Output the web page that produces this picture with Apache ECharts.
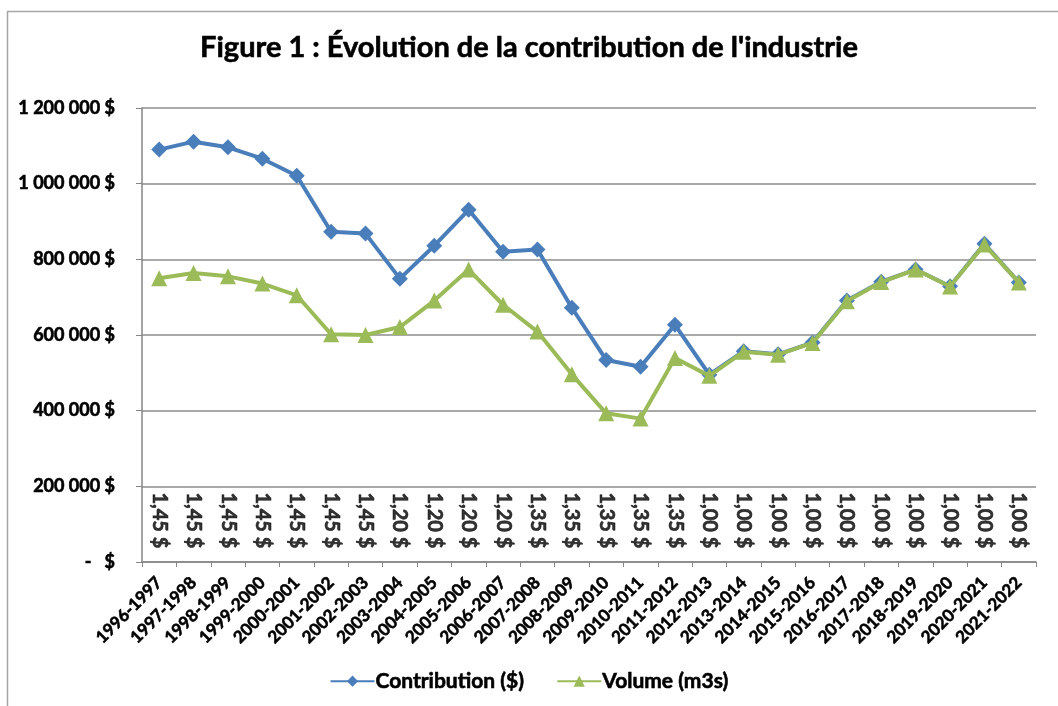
<!DOCTYPE html>
<html>
<head>
<meta charset="utf-8">
<script src="https://cdn.jsdelivr.net/npm/echarts@6/dist/echarts.min.js"></script>
<style>
  html, body { margin: 0; padding: 0; background: #fff; }
  #chart { width: 1058px; height: 706px; }
</style>
</head>
<body>
<div id="chart"></div>
<script>
const years = [
  '1996-1997', '1997-1998', '1998-1999', '1999-2000', '2000-2001', '2001-2002',
  '2002-2003', '2003-2004', '2004-2005', '2005-2006', '2006-2007', '2007-2008',
  '2008-2009', '2009-2010', '2010-2011', '2011-2012', '2012-2013', '2013-2014',
  '2014-2015', '2015-2016', '2016-2017', '2017-2018', '2018-2019', '2019-2020',
  '2020-2021', '2021-2022'
]
const contribution = [
  1090000, 1111000, 1096000, 1066000, 1021000, 873000, 868000, 749000, 836000,
  931000, 820000, 826000, 672000, 534000, 516000, 627000, 495000, 557000,
  549000, 580000, 691000, 741000, 773000, 729000, 841000, 739000
]
const volume = [
  750000, 764000, 755000, 736000, 705000, 602000, 600000, 621000, 691000,
  773000, 680000, 609000, 496000, 393000, 379000, 539000, 492000, 556000,
  548000, 579000, 689000, 740000, 773000, 728000, 839000, 739000
]
const rateLabels = [
  '1,45 $', '1,45 $', '1,45 $', '1,45 $', '1,45 $', '1,45 $', '1,45 $',
  '1,20 $', '1,20 $', '1,20 $', '1,20 $',
  '1,35 $', '1,35 $', '1,35 $', '1,35 $', '1,35 $',
  '1,00 $', '1,00 $', '1,00 $', '1,00 $', '1,00 $', '1,00 $', '1,00 $',
  '1,00 $', '1,00 $', '1,00 $'
]

const FONT = 'Lato'
const RATE_Y = 110000

// heavier text, closer to the bold Calibri of the original
const heavy = { fontFamily: FONT, fontWeight: 'bold', color: '#000', textBorderColor: '#000', textBorderWidth: 0.6 }

const fmtMoney = (v) => {
  if (v === 0) return '-   $'
  return String(v).replace(/\B(?=(\d{3})+(?!\d))/g, ' ') + ' $'
}

const chart = echarts.init(document.getElementById('chart'), null, { renderer: 'canvas' })

chart.setOption({
  animation: false,
  textStyle: { fontFamily: FONT },
  graphic: [{
    type: 'rect',
    shape: { x: 7.5, y: 11.5, width: 1100, height: 800 },
    style: { fill: 'none', stroke: '#a6a6a6', lineWidth: 1.5 },
    silent: true
  }],
  title: {
    text: "Figure 1 : Évolution de la contribution de l'industrie",
    left: 'center',
    top: 28,
    textStyle: { ...heavy, fontSize: 29 }
  },
  legend: {
    data: ['Contribution ($)', 'Volume (m3s)'],
    bottom: 9,
    left: 'center',
    itemWidth: 44,
    itemHeight: 14,
    itemGap: 32,
    textStyle: { ...heavy, fontSize: 21, padding: [0, 0, 0, -4] }
  },
  grid: { left: 142, right: 22, top: 108, bottom: 144 },
  xAxis: {
    type: 'category',
    data: years,
    boundaryGap: true,
    axisLine: { lineStyle: { color: '#868686', width: 1.5 } },
    axisTick: { show: true, length: 5, interval: 0, lineStyle: { color: '#868686' } },
    axisLabel: { ...heavy, interval: 0, rotate: 45, margin: 18, fontSize: 17 }
  },
  yAxis: {
    type: 'value',
    min: 0,
    max: 1200000,
    interval: 200000,
    axisLine: { show: true, lineStyle: { color: '#868686', width: 1.5 } },
    axisTick: { show: true, length: 6, lineStyle: { color: '#868686' } },
    splitLine: { lineStyle: { color: '#8c8c8c', width: 1.5 } },
    axisLabel: { ...heavy, formatter: fmtMoney, margin: 27, fontSize: 18 }
  },
  series: [
    {
      name: 'Contribution ($)',
      type: 'line',
      data: contribution,
      symbol: 'diamond',
      symbolSize: 16,
      color: '#4a7ebb',
      lineStyle: { width: 4, color: '#4a7ebb' },
      itemStyle: { color: '#4a7ebb' },
      z: 3
    },
    {
      name: 'Volume (m3s)',
      type: 'line',
      data: volume,
      symbol: 'triangle',
      symbolSize: 16,
      color: '#9bbb59',
      lineStyle: { width: 4, color: '#9bbb59' },
      itemStyle: { color: '#9bbb59' },
      z: 4
    },
    {
      name: 'rates',
      type: 'scatter',
      data: rateLabels.map(() => RATE_Y),
      symbolSize: 0,
      silent: true,
      label: {
        ...heavy,
        show: true,
        position: 'inside',
        rotate: -90,
        formatter: (p) => rateLabels[p.dataIndex],
        fontSize: 20
      }
    }
  ]
})
</script>
</body>
</html>
